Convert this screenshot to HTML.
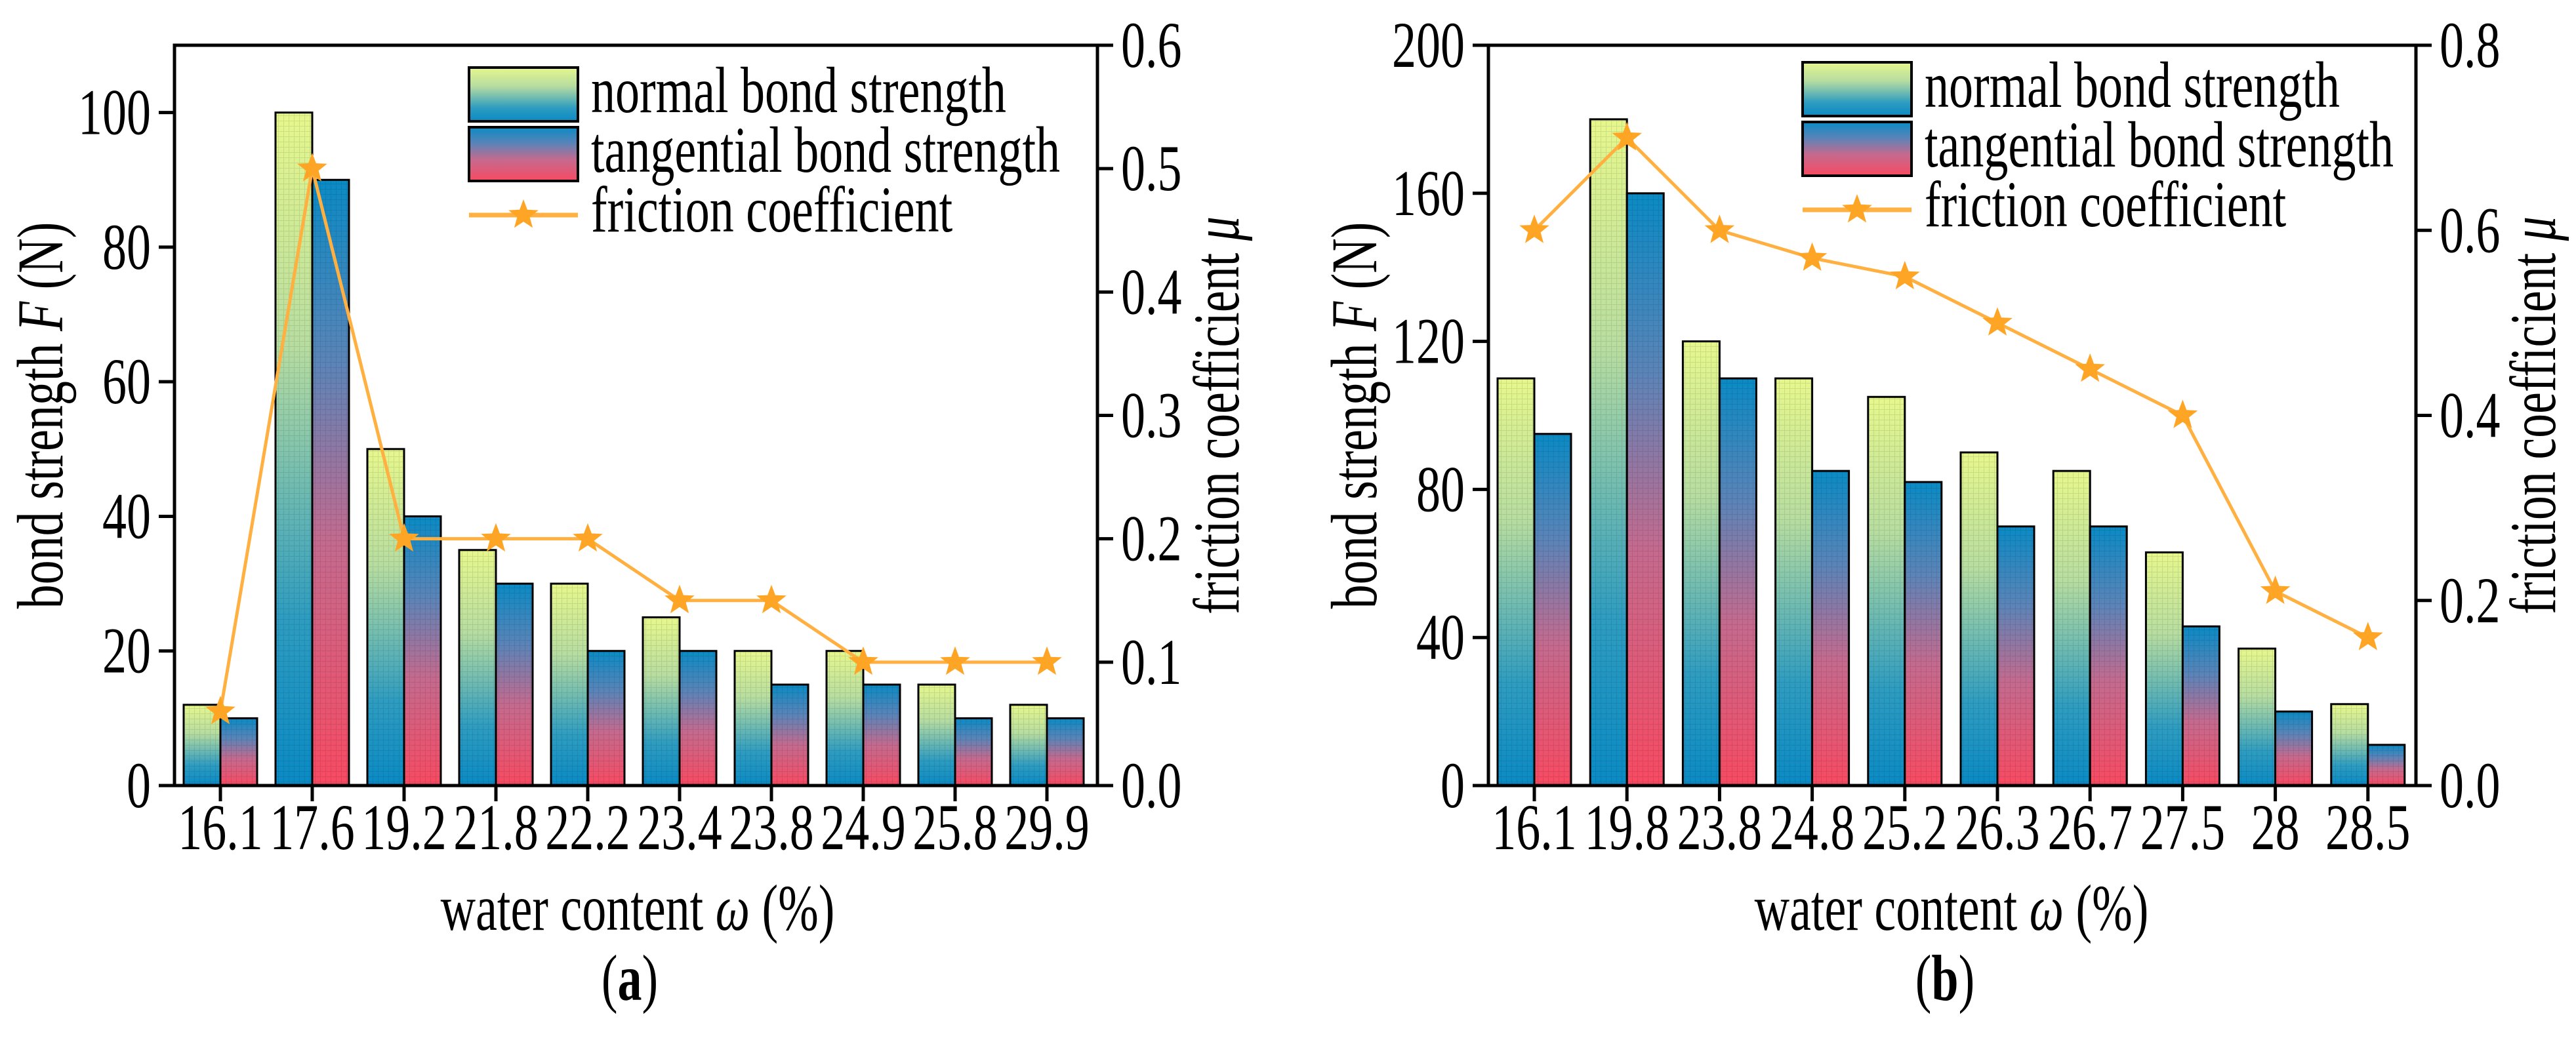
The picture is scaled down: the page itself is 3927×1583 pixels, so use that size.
<!DOCTYPE html>
<html><head><meta charset="utf-8">
<style>
html,body{margin:0;padding:0;background:#fff;}
svg{display:block;}
text{font-family:"Liberation Serif",serif;fill:#000;}
</style></head>
<body>
<svg id="fig" width="3927" height="1583" viewBox="0 0 3927 1583" xmlns="http://www.w3.org/2000/svg">
<defs>
<linearGradient id="gN" x1="0" y1="0" x2="0" y2="1">
<stop offset="0" stop-color="#e6f78c"/><stop offset="0.35" stop-color="#b6dca0"/><stop offset="0.75" stop-color="#2e9cc0"/><stop offset="1" stop-color="#0a8ac4"/>
</linearGradient>
<linearGradient id="gT" x1="0" y1="0" x2="0" y2="1">
<stop offset="0" stop-color="#0a8ac4"/><stop offset="0.3" stop-color="#5a84b8"/><stop offset="0.6" stop-color="#c46a8e"/><stop offset="1" stop-color="#f84a62"/>
</linearGradient>
<pattern id="pg" width="8" height="8" patternUnits="userSpaceOnUse"><path d="M0 0H8M0 0V8" stroke="rgba(0,0,0,0.12)" stroke-width="1.5" fill="none"/></pattern>
</defs>
<g id="pa"></g>
<g id="pb"></g>
</svg>
<script>
// Panel (a) data
const catsA = ["16.1","17.6","19.2","21.8","22.2","23.4","23.8","24.9","25.8","29.9"];
const normalA = [12,100,50,35,30,25,20,20,15,12];
const tangA = [10,90,40,30,20,20,15,15,10,10];
const muA = [0.06,0.5,0.2,0.2,0.2,0.15,0.15,0.1,0.1,0.1];
const yTicksA = [0,20,40,60,80,100];
const y2TicksA = ["0.0","0.1","0.2","0.3","0.4","0.5","0.6"];
// Panel (b) data
const catsB = ["16.1","19.8","23.8","24.8","25.2","26.3","26.7","27.5","28","28.5"];
const normalB = [110,180,120,110,105,90,85,63,37,22];
const tangB = [95,160,110,85,82,70,70,43,20,11];
const muB = [0.6,0.7,0.6,0.57,0.55,0.5,0.45,0.4,0.21,0.16];
const yTicksB = [0,40,80,120,160,200];
const y2TicksB = ["0.0","0.2","0.4","0.6","0.8"];

const NS="http://www.w3.org/2000/svg";
const SY=1.35;
function mk(parent,tag,attrs,txt){const e=document.createElementNS(NS,tag);for(const k in attrs)e.setAttribute(k,attrs[k]);if(txt!==undefined)e.textContent=txt;parent.appendChild(e);return e;}
function tx(parent,x,y,html,anchor,rot){
  const tr=`translate(${x},${y})`+(rot?" rotate(-90)":"")+` scale(1,${SY})`;
  const e=mk(parent,"text",{transform:tr,"font-size":74,"text-anchor":anchor||"start"});
  e.innerHTML=html;return e;
}
function starPath(cx,cy,R){const r=R*0.42;let d="";for(let i=0;i<10;i++){const a=-Math.PI/2+i*Math.PI/5;const rr=i%2?r:R;d+=(i?"L":"M")+(cx+rr*Math.cos(a)).toFixed(1)+" "+(cy+rr*Math.sin(a)).toFixed(1);}return d+"Z";}

function panel(g,o){
  const y=v=>o.y0-(v/o.ymax)*(o.y0-o.top);
  const y2=v=>o.y0-(v/o.y2max)*(o.y0-o.top);
  const x=i=>o.x0+i*o.step;
  const bw=56;
  o.cats.forEach((c,i)=>{
    let r=mk(g,"rect",{x:x(i)-bw,y:y(o.normal[i]),width:bw,height:y(0)-y(o.normal[i]),fill:"url(#gN)",stroke:"#000","stroke-width":3});
    
    
    mk(g,"rect",{x:x(i)-bw,y:y(o.normal[i]),width:bw,height:y(0)-y(o.normal[i]),fill:"url(#pg)"});
    let t=mk(g,"rect",{x:x(i),y:y(o.tang[i]),width:bw,height:y(0)-y(o.tang[i]),fill:"url(#gT)",stroke:"#000","stroke-width":3});
    
    
    mk(g,"rect",{x:x(i),y:y(o.tang[i]),width:bw,height:y(0)-y(o.tang[i]),fill:"url(#pg)"});
  });
  let f=mk(g,"rect",{x:o.left,y:o.top,width:o.right-o.left,height:o.y0-o.top,fill:"none",stroke:"#000","stroke-width":5});
  
  
  o.yt.forEach(v=>{
    mk(g,"line",{x1:o.left-24,x2:o.left,y1:y(v),y2:y(v),stroke:"#000","stroke-width":5});
    let tl=tx(g,o.left-36,y(v)+33,String(v),"end");
    
    
  });
  o.y2t.forEach(s=>{
    const v=parseFloat(s);
    mk(g,"line",{x1:o.right,x2:o.right+24,y1:y2(v),y2:y2(v),stroke:"#000","stroke-width":5});
    let tl=tx(g,o.right+36,y2(v)+33,s,"start");
    
    
  });
  o.cats.forEach((c,i)=>{
    mk(g,"line",{x1:x(i),x2:x(i),y1:o.y0,y2:o.y0+24,stroke:"#000","stroke-width":5});
    let tl=tx(g,x(i),1295,c,"middle");
    
    
  });
  const pts=o.mu.map((m,i)=>x(i)+","+y2(m)).join(" ");
  let pl=mk(g,"polyline",{points:pts,fill:"none",stroke:"#ffb040","stroke-width":5});
  
  
  o.mu.forEach((m,i)=>{
    let s=mk(g,"path",{d:starPath(x(i),y2(m),24),fill:"#ffa526"});
    
    
  });
  let yt=tx(g,o.ytx,(o.top+o.y0)/2,'bond strength <tspan font-style="italic">F</tspan> (N)',"middle",true);
  
  
  let y2l=tx(g,o.y2tx,(o.top+o.y0)/2,'friction coefficient <tspan font-style="italic">μ</tspan>',"middle",true);
  
  
  let xt=tx(g,o.xtx,1418,'water content <tspan font-style="italic">ω</tspan> (%)',"middle");
  
  
  let cap=tx(g,o.capx,1525,'(<tspan font-weight="bold">'+o.cap+'</tspan>)',"middle");
  
  
  const L=o.leg;
  let n=mk(g,"rect",{x:L.x,y:L.y,width:166,height:82,fill:"url(#gN)",stroke:"#000","stroke-width":4});
  
  
  let t=mk(g,"rect",{x:L.x,y:L.y+91,width:166,height:82,fill:"url(#gT)",stroke:"#000","stroke-width":4});
  
  
  mk(g,"line",{x1:L.x,x2:L.x+166,y1:L.y+225,y2:L.y+225,stroke:"#ffb040","stroke-width":7});
  mk(g,"path",{d:starPath(L.x+83,L.y+225,24),fill:"#ffa526"});
  [["normal bond strength",L.y+68],["tangential bond strength",L.y+159],["friction coefficient",L.y+250]].forEach(([s,yy])=>{
    let e=tx(g,L.x+186,yy,s,"start");
    
    
  });
}
panel(document.getElementById("pa"),{cats:catsA,normal:normalA,tang:tangA,mu:muA,yt:yTicksA,y2t:y2TicksA,
  ymax:110,y2max:0.6,y0:1198,top:69,left:266,right:1673,x0:336,step:140,
  ytx:95,y2tx:1888,xtx:972,capx:960,cap:"a",leg:{x:715,y:103}});
panel(document.getElementById("pb"),{cats:catsB,normal:normalB,tang:tangB,mu:muB,yt:yTicksB,y2t:y2TicksB,
  ymax:200,y2max:0.8,y0:1198,top:69,left:2269,right:3683,x0:2339,step:141.2,
  ytx:2098,y2tx:3895,xtx:2975,capx:2965,cap:"b",leg:{x:2748,y:95}});
</script>
</body></html>
